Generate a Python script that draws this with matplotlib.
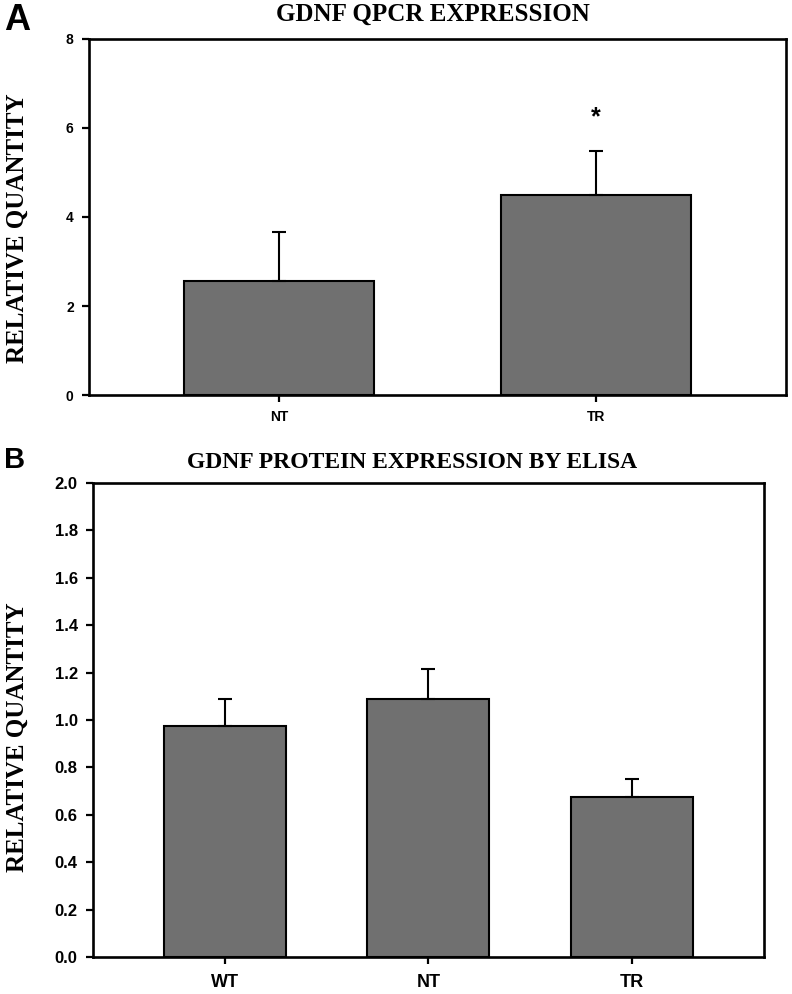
import matplotlib.pyplot as plt

# Panel A - GDNF qPCR
qpcr_groups = ["NT", "TR"]
qpcr_values = [2.56, 4.49]
qpcr_errors = [1.10, 0.99]

# Panel B - GDNF ELISA
elisa_groups = ["WT", "NT", "TR"]
elisa_values = [0.975, 1.089, 0.675]
elisa_errors = [0.114, 0.126, 0.076]

bar_color = "#707070"
serif = "Liberation Serif"
sans = "Liberation Sans"

fig = plt.figure(figsize=(7.92, 9.94), dpi=100)
axA = fig.add_axes([0.1124, 0.6026, 0.88, 0.3582])
axB = fig.add_axes([0.1174, 0.0372, 0.8472, 0.4769])


def style_axis(ax, tick_size, xtick_size, xpad):
    for s in ax.spines.values():
        s.set_linewidth(1.9)
    ax.tick_params(axis="both", direction="out", length=5, width=1.6)
    ax.tick_params(axis="y", pad=6)
    ax.tick_params(axis="x", pad=xpad)
    for lab in ax.get_yticklabels():
        lab.set_fontfamily(sans)
        lab.set_fontweight("bold")
        lab.set_fontsize(tick_size)
    for lab in ax.get_xticklabels():
        lab.set_fontfamily(sans)
        lab.set_fontweight("bold")
        lab.set_fontsize(xtick_size)


# ---- Panel A
xa = range(len(qpcr_groups))
axA.bar(xa, qpcr_values, width=0.6, color=bar_color, edgecolor="black", linewidth=1.5,
        yerr=[[0] * len(qpcr_errors), qpcr_errors],
        error_kw=dict(ecolor="black", elinewidth=1.5, capsize=5, capthick=1.5))
axA.set_xlim(-0.6, 1.6)
axA.set_ylim(0, 8)
axA.set_yticks([0, 2, 4, 6, 8])
axA.set_xticks(list(xa))
axA.set_xticklabels(qpcr_groups)
style_axis(axA, 10, 10, 6)
axA.text(1, 6.25, "*", ha="center", va="center", fontsize=18, fontweight="bold", family=sans)
axA.set_title("GDNF QPCR EXPRESSION", family=serif, fontweight="bold", fontsize=18,
              pad=13, x=0.493)

# ---- Panel B
xb = range(len(elisa_groups))
axB.bar(xb, elisa_values, width=0.6, color=bar_color, edgecolor="black", linewidth=1.5,
        yerr=[[0] * len(elisa_errors), elisa_errors],
        error_kw=dict(ecolor="black", elinewidth=1.5, capsize=5, capthick=1.5))
axB.set_xlim(-0.65, 2.65)
axB.set_ylim(0, 2.0)
axB.set_yticks([i / 10 for i in range(0, 21, 2)])
axB.set_yticklabels([f"{i / 10:.1f}" for i in range(0, 21, 2)])
axB.set_xticks(list(xb))
axB.set_xticklabels(elisa_groups)
style_axis(axB, 12, 13, 7)
axB.set_title("GDNF PROTEIN EXPRESSION BY ELISA", family=serif, fontweight="bold", fontsize=17,
              pad=11, x=0.475)

# y labels
fig.text(0.022, 0.7706, "RELATIVE QUANTITY", rotation=90, ha="center", va="center",
         family=serif, fontweight="bold", fontsize=18)
fig.text(0.022, 0.2586, "RELATIVE QUANTITY", rotation=90, ha="center", va="center",
         family=serif, fontweight="bold", fontsize=18)

# panel letters
fig.text(0.005, 0.979, "A", family=sans, fontweight="bold", fontsize=26, va="center")
fig.text(0.005, 0.537, "B", family=sans, fontweight="bold", fontsize=21, va="center")

fig.savefig("out.png", dpi=100)
